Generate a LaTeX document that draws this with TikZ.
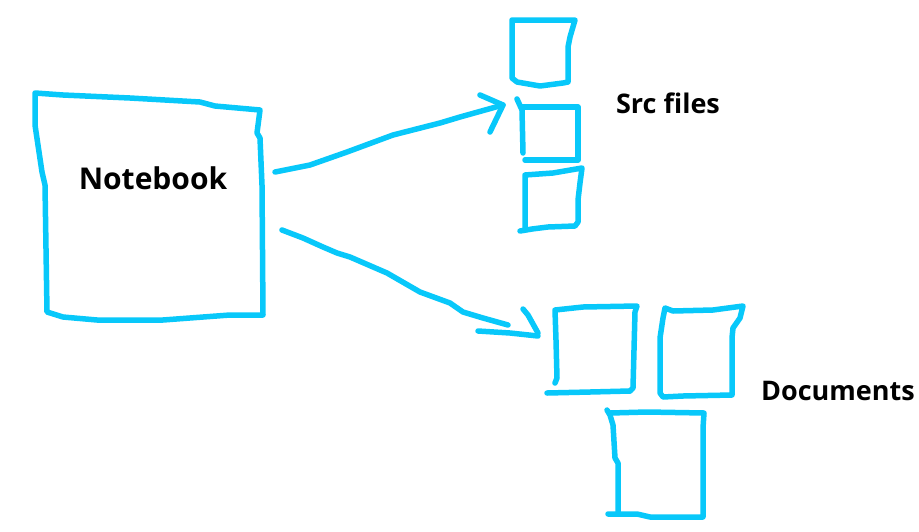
\documentclass[tikz,border=0pt]{standalone}
\usepackage{fontspec}
\setmainfont{Open Sans}
\definecolor{pen}{RGB}{8,200,250}
\tikzset{
  stroke/.style={draw=pen, line width=5.5pt, line cap=round, line join=round},
  lbl/.style={font=\bfseries\fontsize{#1}{#1}\selectfont, text=black, inner sep=0pt}
}
\begin{document}
\begin{tikzpicture}[x=1pt,y=-1pt]
\useasboundingbox[fill=white] (0,0) rectangle (919,531);
% Notebook box
\draw[stroke] (35,93) -- (63,95) -- (130,98) -- (200,102) -- (215,106) -- (260,110)
  -- (257,133) -- (260,138) -- (262,185) -- (263,315)
  -- (230,315) -- (163,320) -- (97,320) -- (63,317) -- (47,312)
  -- (45,185) -- (42,172) -- (35,125) -- cycle;
\node[lbl=30] (nb) at (153,178) {Notebook};
% Src files boxes
\draw[stroke] (512,20) -- (575,20) -- (570,37) -- (568,47) -- (568,82)
  -- (563,83) -- (540,86) -- (517,82) -- (512,78) -- cycle;
\draw[stroke] (517,99) -- (522,110) -- (523,153);
\draw[stroke] (522,107) -- (578,107) -- (578,160) -- (525,160);
\draw[stroke] (520,231) -- (532,229) -- (548,227) -- (575,226) -- (578,222) -- (578,200) -- (580,183) -- (582,168)
  -- (553,173) -- (525,175) -- (525,227);
\node[lbl=27] (src) at (668,103) {Src files};
% Documents boxes
\draw[stroke] (555,383) -- (557,378) -- (556,340) -- (555,310) -- (583,307) -- (637,306) -- (635,312) -- (633,388) -- (630,391);
\draw[stroke] (630,391) -- (590,392) -- (547,393);
\draw[stroke] (665,308) -- (673,311) -- (713,310) -- (743,306) -- (740,318) -- (733,328) -- (732,338) -- (732,395)
  -- (683,396) -- (663,397) -- (660,393) -- (660,338) -- (663,318) -- cycle;
\draw[stroke] (607,410) -- (610,415) -- (613,425) -- (615,458) -- (618,463) -- (618,513);
\draw[stroke] (608,514) -- (637,514) -- (650,517) -- (703,517) -- (703,503) -- (703,428) -- (704,413)
  -- (647,412) -- (610,413);
\node[lbl=27] (docs) at (838,391) {Documents};
% arrow to src files
\coordinate (a1s) at (275,172);
\coordinate (a1e) at (503,105);
\draw[stroke] (a1s) -- (310,165) -- (347,152) -- (393,135) -- (440,123) -- (460,117) -- (a1e);
\draw[stroke] (480,95) -- (503,105) -- (490,132);
% arrow to documents
\coordinate (a2s) at (282,230);
\coordinate (a2e) at (508,325);
\draw[stroke] (a2s) -- (303,238) -- (323,247) -- (337,253) -- (350,257) -- (387,273) -- (420,292) -- (450,303) -- (463,312) -- (483,318) -- (a2e);
\draw[stroke] (478,331) -- (510,333) -- (538,336);
\draw[stroke] (523,309) -- (528,315) -- (538,333);
\end{tikzpicture}
\end{document}
